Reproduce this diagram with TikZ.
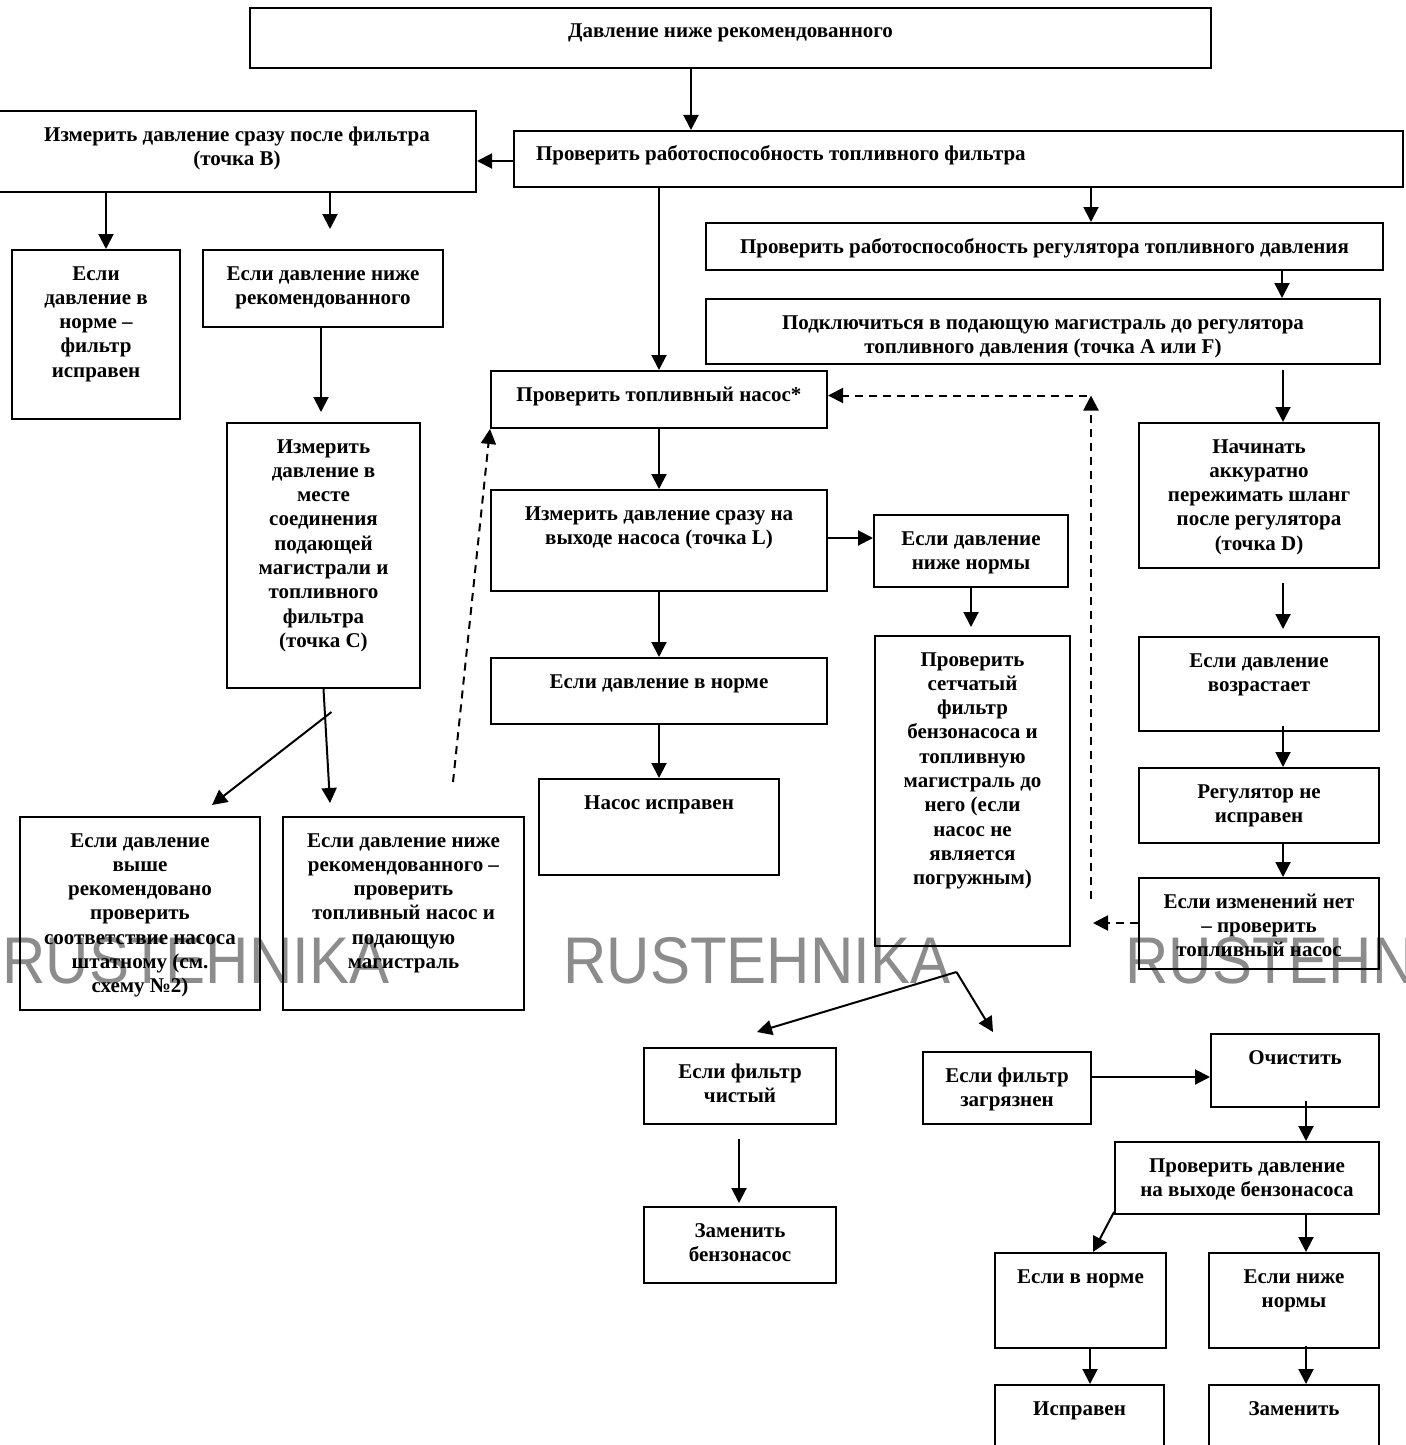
\documentclass[tikz,border=0pt]{standalone}
\usepackage{fontspec}
\setmainfont{Liberation Serif}
\setsansfont{Liberation Sans}
\usetikzlibrary{arrows.meta,calc}
\newlength{\px}
\setlength{\px}{0.5pt}
% box content: width, height (in px), text
\newcommand{\cell}[3]{\parbox[t][#2\px][t]{#1\px}{\centering\rule{0pt}{15pt}#3}}
\definecolor{wmgray}{RGB}{140,140,140}

\begin{document}
\begin{tikzpicture}[x=0.5pt, y=-0.5pt,
  font=\fontsize{10.5}{12.15}\selectfont\bfseries,
  box/.style={draw, line width=1pt, inner sep=0pt, anchor=north west},
  arr/.style={line width=1pt, -{Triangle[length=7.5pt,width=7.5pt]}},
  dsh/.style={arr, dash pattern=on 4pt off 3pt},
  wmark/.style={anchor=base west, text=wmgray, inner sep=0pt,
    font=\sffamily\fontsize{30}{30}\selectfont}]
\clip (0,0) rectangle (1405,1445);
\fill[white] (0,0) rectangle (1405,1445);

% watermark
\node[wmark] (wm1) at (2,983) {\scalebox{1}[1.1]{RUSTEHNIKA}};
\node[wmark] (wm2) at (563,983) {\scalebox{1}[1.1]{RUSTEHNIKA}};
\node[wmark] (wm3) at (1125,983) {\scalebox{1}[1.1]{RUSTEHNIKA}};

% top row
\node[box] (top) at (249,7) {\cell{961}{60}{Давление ниже рекомендованного}};
\node[box] (filt) at (513,130) {\cell{889}{56}{\raggedright\hspace*{11pt}Проверить работоспособность топливного фильтра}};
\node[box] (B) at (-3,110) {\cell{478}{81}{Измерить давление сразу после фильтра\\(точка B)}};

% left branch
\node[box] (norm1) at (11,249) {\cell{168}{169}{Если\\давление в\\норме –\\фильтр\\исправен}};
\node[box] (low1) at (202,249) {\cell{240}{77}{Если давление ниже\\рекомендованного}};
\node[box] (C) at (226,422) {\cell{193}{265}{Измерить\\давление в\\месте\\соединения\\подающей\\магистрали и\\топливного\\фильтра\\(точка C)}};
\node[box] (high) at (19,816) {\cell{240}{193}{Если давление\\выше\\рекомендовано\\проверить\\соответствие насоса\\штатному (см.\\схему №2)}};
\node[box] (lowC) at (282,816) {\cell{241}{193}{Если давление ниже\\рекомендованного –\\проверить\\топливный насос и\\подающую\\магистраль}};

% pump branch
\node[box] (pump) at (490,370) {\cell{336}{57}{Проверить топливный насос*}};
\node[box] (L) at (490,489) {\cell{336}{101}{Измерить давление сразу на\\выходе насоса (точка L)}};
\node[box] (ok) at (490,657) {\cell{336}{66}{Если давление в норме}};
\node[box] (pumpok) at (538,778) {\cell{240}{96}{Насос исправен}};
\node[box] (lowN) at (873,514) {\cell{194}{72}{Если давление\\ниже нормы}};
\node[box] (sieve) at (874,635) {\cell{195}{310}{Проверить\\сетчатый\\фильтр\\бензонасоса и\\топливную\\магистраль до\\него (если\\насос не\\является\\погружным)}};

% regulator branch
\node[box] (reg) at (705,222) {\cell{677}{47}{Проверить работоспособность регулятора топливного давления}};
\node[box] (conn) at (705,298) {\cell{674}{65}{Подключиться в подающую магистраль до регулятора\\топливного давления (точка A или F)}};
\node[box] (D) at (1138,422) {\cell{240}{145}{Начинать\\аккуратно\\пережимать шланг\\после регулятора\\(точка D)}};
\node[box] (rise) at (1138,636) {\cell{240}{94}{Если давление\\возрастает}};
\node[box] (regbad) at (1138,767) {\cell{240}{75}{Регулятор не\\исправен}};
\node[box] (nochg) at (1138,877) {\cell{240}{91}{Если изменений нет\\– проверить\\топливный насос}};

% filter check
\node[box] (clean) at (643,1047) {\cell{192}{76}{Если фильтр\\чистый}};
\node[box] (repl) at (643,1206) {\cell{192}{76}{Заменить\\бензонасос}};
\node[box] (dirty) at (922,1051) {\cell{168}{72}{Если фильтр\\загрязнен}};
\node[box] (clr) at (1210,1033) {\cell{168}{73}{Очистить}};
\node[box] (chk) at (1114,1141) {\cell{264}{72}{Проверить давление\\на выходе бензонасоса}};
\node[box] (inN) at (994,1252) {\cell{171}{95}{Если в норме}};
\node[box] (belowN) at (1208,1252) {\cell{170}{95}{Если ниже\\нормы}};
\node[box] (fine) at (994,1384) {\cell{169}{80}{Исправен}};
\node[box] (replace) at (1208,1384) {\cell{170}{80}{Заменить}};

% arrows, top part
\draw[arr] ($(top.south west)+(442,0)$) coordinate (s1) -- (s1 |- filt.north);
\draw[arr] ($(filt.north west)+(0,31)$) coordinate (s2) -- (s2 -| B.east);
\draw[arr] ($(B.south west)+(109,0)$) coordinate (s3) -- (s3 |- norm1.north);
\draw[arr] ($(B.south west)+(333,0)$) coordinate (s4) -- ($(s4 |- low1.north)+(0,-20)$);
\draw[arr] ($(low1.south west)+(119,0)$) coordinate (s5) -- ($(s5 |- C.north)+(0,-10)$);
\draw[arr] (C.south) -- ($(lowC.north west)+(48,-13)$);
\draw[arr] ($(C.south)+(8,23)$) -- ($(high.north west)+(193,-11)$);
\draw[arr] (filt.south -| pump) -- (pump);
\draw[arr] ($(filt.south west)+(578,0)$) coordinate (s7) -- (s7 |- reg.north);
\draw[arr] ($(reg.south west)+(577,0)$) coordinate (s8) -- (s8 |- conn.north);
\draw[arr] ($(conn.south west)+(578,5)$) coordinate (s9) -- (s9 |- D.north);

% pump branch
\draw[arr] (pump) -- (L);
\draw[arr] (L) -- (ok);
\draw[arr] (ok) -- (pumpok);
\draw[arr] ($(L.north east)+(0,49)$) coordinate (s11) -- (s11 -| lowN.west);
\draw[arr] (lowN.south) -- ($(lowN.south |- sieve.north)+(0,-8)$);

% regulator branch
\draw[arr] ($(D.south west)+(145,14)$) coordinate (s15) -- ($(s15 |- rise.north)+(0,-7)$);
\draw[arr] ($(rise.south west)+(145,-6)$) coordinate (s16) -- (s16 |- regbad.north);
\draw[arr] ($(regbad.south west)+(145,0)$) coordinate (s17) -- (s17 |- nochg.north);

% dashed returns to the pump
\coordinate (corner) at ($(s7 |- pump.east)+(0,-4)$);
\draw[dsh] ($(nochg.north west)+(0,46)$) coordinate (s18) -- ($(s18 -| corner)+(2,0)$);
\draw[dsh] ($(s18 -| corner)+(0,-24)$) -- (corner);
\draw[dsh] ($(corner)+(-4,0)$) -- (corner -| pump.east);
\draw[dsh] ($(lowC.north east)+(-72,-34)$) -- (pump.south west);

% filter check
\coordinate (fork) at ($(sieve.south)+(-16,25)$);
\draw[arr] (fork) -- ($(clean.north west)+(114,-15)$);
\draw[arr] (fork) -- ($(dirty.north west)+(71,-19)$);
\draw[arr] ($(clean.south west)+(96,14)$) coordinate (s31) -- ($(s31 |- repl.north)+(0,-3)$);
\draw[arr] ($(dirty.north east)+(0,26)$) coordinate (s25) -- (s25 -| clr.west);
\draw[arr] ($(clr.south west)+(96,-7)$) coordinate (s26) -- (s26 |- chk.north);
\draw[arr] ($(chk.south west)+(0,-3)$) -- ($(inN.north west)+(99,0)$);
\draw[arr] ($(chk.south west)+(192,0)$) coordinate (s28) -- (s28 |- belowN.north);
\draw[arr] ($(inN.south west)+(96,0)$) coordinate (s29) -- (s29 |- fine.north);
\draw[arr] ($(belowN.south west)+(98,-3)$) coordinate (s30) -- (s30 |- replace.north);
\end{tikzpicture}
\end{document}
